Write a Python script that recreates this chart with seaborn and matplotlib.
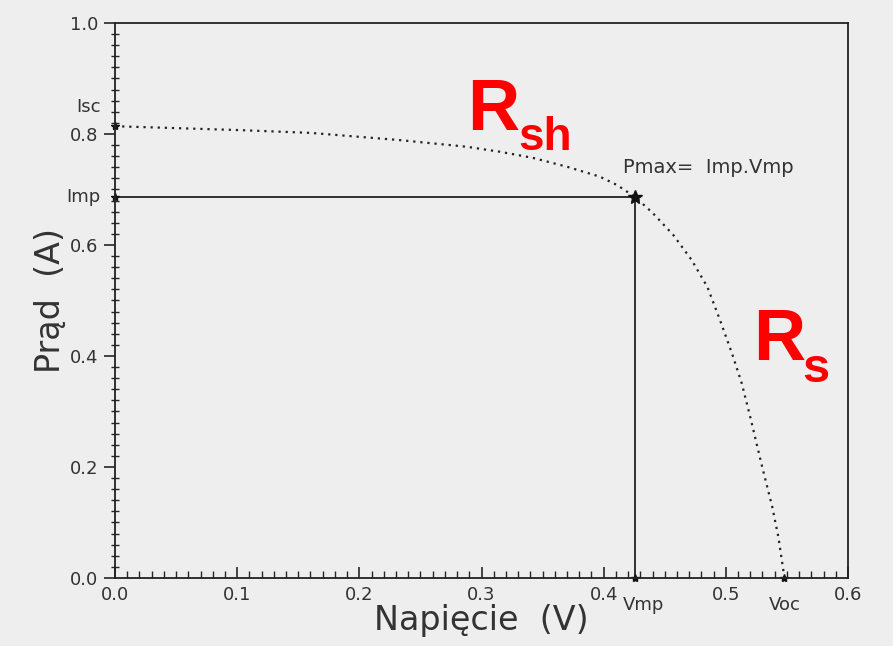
import numpy as np
import pandas as pd
import matplotlib.pyplot as plt
import seaborn as sns
from matplotlib.ticker import MultipleLocator

# --- data ---
napiecie = [0.0, 0.102, 0.160, 0.233, 0.288, 0.315, 0.342, 0.370, 0.397,
            0.411, 0.426, 0.440, 0.457, 0.472, 0.485, 0.495, 0.505, 0.513,
            0.520, 0.529, 0.538, 0.543, 0.548]
prad = [0.814, 0.807, 0.802, 0.789, 0.777, 0.768, 0.757, 0.741, 0.723,
        0.708, 0.686, 0.658, 0.618, 0.573, 0.524, 0.466, 0.405, 0.351,
        0.290, 0.207, 0.128, 0.074, 0.0]

isc = 0.814
imp = 0.686
vmp = 0.426
voc = 0.548

x_ticks = [0.0, 0.1, 0.2, 0.3, 0.4, 0.5, 0.6]
y_ticks = [0.0, 0.2, 0.4, 0.6, 0.8, 1.0]

df = pd.DataFrame({'V': napiecie, 'I': prad})

sns.set_theme(style='ticks')
plt.rcParams['font.family'] = ['DejaVu Sans']
bg = '#eeeeee'

fig = plt.figure(figsize=(8.93, 6.46), dpi=100, facecolor=bg)
ax = fig.add_axes([0.1288, 0.1053, 0.8208, 0.8591], facecolor=bg)

# dotted I-V curve
sns.lineplot(data=df, x='V', y='I', ax=ax, color='#222222', linewidth=1.6,
             linestyle=(0, (1, 2.2)), sort=False)

# max power point guide lines
ax.plot([0, vmp], [imp, imp], color='#222222', linewidth=1.3)
ax.plot([vmp, vmp], [imp, 0], color='#222222', linewidth=1.3)

# small marks at the characteristic points
ax.plot([0, 0, vmp, voc], [isc, imp, 0, 0], linestyle='none', marker='*',
        markersize=6, color='#111111', clip_on=False)
ax.plot([vmp], [imp], linestyle='none', marker='*', markersize=10,
        color='#111111')

ax.set_xlim(0, 0.6)
ax.set_ylim(0, 1.0)
ax.set_xticks(x_ticks)
ax.set_yticks(y_ticks)
ax.set_xticklabels([f'{v:.1f}' for v in x_ticks])
ax.set_yticklabels([f'{v:.1f}' for v in y_ticks])
ax.xaxis.set_minor_locator(MultipleLocator(0.01))
ax.yaxis.set_minor_locator(MultipleLocator(0.02))

ax.tick_params(axis='x', which='major', direction='in', length=8, width=1.2,
               labelsize=13, labelcolor='#333333', pad=6)
ax.tick_params(axis='x', which='minor', direction='in', length=5, width=1.0)
ax.tick_params(axis='y', which='major', direction='out', length=8, width=1.2,
               labelsize=13, labelcolor='#333333', pad=4)
ax.tick_params(axis='y', which='minor', direction='inout', length=6, width=1.0)

for s in ax.spines.values():
    s.set_visible(True)
    s.set_color('#222222')
    s.set_linewidth(1.3)

ax.set_xlabel('Napięcie  (V)', fontsize=24, color='#333333', labelpad=0)
ax.set_ylabel('Prąd  (A)', fontsize=24, color='#333333', labelpad=2)

# extra axis annotations
ax.text(-0.012, 0.849, 'Isc', ha='right', va='center', fontsize=13,
        color='#333333')
ax.text(-0.012, imp, 'Imp', ha='right', va='center', fontsize=13,
        color='#333333')
ax.annotate('Vmp', xy=(vmp, 0), xytext=(6, -13), textcoords='offset points',
            ha='center', va='top', fontsize=13, color='#333333',
            annotation_clip=False)
ax.annotate('Voc', xy=(voc, 0), xytext=(0, -13), textcoords='offset points',
            ha='center', va='top', fontsize=13, color='#333333',
            annotation_clip=False)
ax.text(0.416, 0.730, 'Pmax=  Imp.Vmp', ha='left', va='baseline',
        fontsize=14, color='#333333')

# red resistance labels
red_font = ['Liberation Sans', 'DejaVu Sans']
ax.text(0.288, 0.807, 'R', ha='left', va='baseline', fontsize=52,
        fontweight='bold', color='#ff0000', family=red_font)
ax.annotate('sh', xy=(0.288, 0.807), xytext=(37, -14.5),
            textcoords='offset points', ha='left', va='baseline',
            fontsize=33, fontweight='bold', color='#ff0000', family=red_font)
ax.text(0.522, 0.393, 'R', ha='left', va='baseline', fontsize=52,
        fontweight='bold', color='#ff0000', family=red_font)
ax.annotate('s', xy=(0.522, 0.393), xytext=(36, -16),
            textcoords='offset points', ha='left', va='baseline',
            fontsize=35, fontweight='bold', color='#ff0000', family=red_font)

fig.savefig('out.png', dpi=100, facecolor=bg)
